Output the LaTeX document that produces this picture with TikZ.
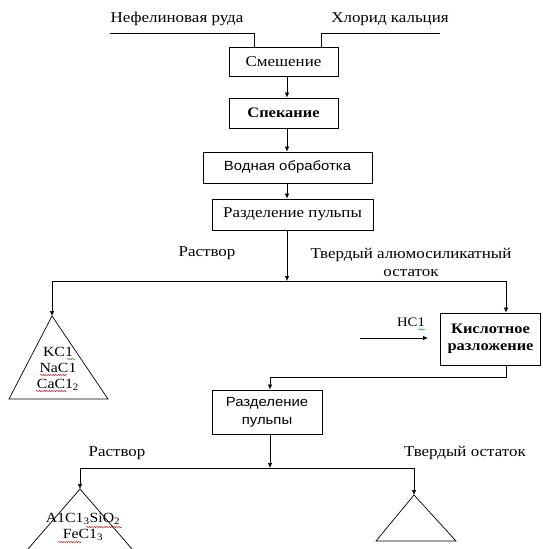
\documentclass[tikz,border=0pt]{standalone}
\usepackage{fontspec}
\setmainfont{Liberation Serif}[FakeStretch=1.13]
\newfontfamily\sansf{Liberation Sans}[FakeStretch=1.12]
\usetikzlibrary{arrows.meta,decorations.pathmorphing}
\begin{document}
\begin{tikzpicture}[x=1pt,y=-1pt,
  box/.style={draw, line width=0.8pt, inner sep=0pt, align=center},
  txt/.style={font=\fontsize{15}{18}\selectfont, inner sep=0pt, align=center},
  smtxt/.style={font=\fontsize{13}{18}\selectfont, inner sep=0pt, align=center},
  tritxt/.style={font=\fontsize{14}{16}\selectfont, inner sep=0pt, align=center},
  stxt/.style={font=\sansf\fontsize{13.3}{18}\selectfont},
  btxt/.style={font=\bfseries\fontsize{14.5}{17.5}\selectfont},
  ln/.style={line width=0.7pt},
  arr/.style={ln, -{Latex[length=5pt,width=4.5pt]}},
  redsq/.style={draw=red!80!black, line width=0.4pt, decorate, decoration={snake, amplitude=0.7pt, segment length=2.5pt}},
  grnsq/.style={draw=green!55!black, line width=0.4pt, decorate, decoration={snake, amplitude=0.7pt, segment length=2.5pt}}]
\useasboundingbox (0,0) rectangle (542,549);
% labels
\node[txt] (ore) at (177,19) {Нефелиновая руда};
\node[txt] (cacl) at (390,19) {Хлорид кальция};
% boxes
\node[box, txt, minimum width=109pt, minimum height=29pt] (smesh) at (283.5,61.5) {Смешение};
\node[box, btxt, minimum width=109pt, minimum height=30pt] (spek) at (283.5,113) {Спекание};
\node[box, stxt, minimum width=169pt, minimum height=31pt] (vod) at (287.5,167.5) {Водная обработка};
\node[box, txt, minimum width=161pt, minimum height=31pt] (razd1) at (292.5,214.5) {Разделение пульпы};
\node[box, btxt, minimum width=100pt, minimum height=52pt] (kisl) at (490.5,339) {Кислотное\\разложение};
\node[box, stxt, minimum width=110pt, minimum height=44pt] (razd2) at (267,412) {Разделение\\пульпы};
% coordinates
\coordinate (vx) at (287,0);
\coordinate (inL) at (110,33);
\coordinate (inR) at (440,33);
\coordinate (jL) at (254,33);
\coordinate (jR) at (321,33);
\coordinate (s1) at (287,281);
\coordinate (s1L) at (52,281);
\coordinate (s1R) at (506,281);
\coordinate (t1) at (52,316);
\coordinate (k1) at (506,377);
\coordinate (k2) at (270,377);
\coordinate (s2) at (270,468);
\coordinate (s2L) at (80,468);
\coordinate (s2R) at (414,468);
\coordinate (t2) at (80,489);
\coordinate (t3) at (414,495);
\coordinate (hclS) at (360,338);
\coordinate (hclE) at (428,338);
% input lines
\draw[ln] (inL) -- (jL) -- (jL |- smesh.north);
\draw[ln] (inR) -- (jR) -- (jR |- smesh.north);
% main flow
\draw[arr] (smesh.south -| vx) -- (spek.north -| vx);
\draw[arr] (spek.south -| vx) -- (vod.north -| vx);
\draw[arr] (vod.south -| vx) -- (razd1.north -| vx);
\draw[arr] (razd1.south -| vx) -- (s1);
\draw[ln] (s1L) -- (s1R);
\draw[arr] (s1L) -- (t1);
\draw[arr] (s1R) -- (kisl.north -| s1R);
\draw[arr] (hclS) -- (hclE);
\node[smtxt] (hcl) at (411,322) {НС1};
\draw[ln] (kisl.south -| k1) -- (k1) -- (k2);
\draw[arr] (k2) -- (razd2.north -| k2);
\draw[arr] (razd2.south -| s2) -- (s2);
\draw[ln] (s2L) -- (s2R);
\draw[arr] (s2L) -- (t2);
\draw[arr] (s2R) -- (t3);
% split labels
\node[txt] (r1) at (207,253) {Раствор};
\node[txt] (tv1) at (411,262) {Твердый алюмосиликатный\\остаток};
\node[txt] (r2) at (117,453) {Раствор};
\node[txt] (tv2) at (465,453) {Твердый остаток};
% triangles
\draw[ln] (t1) -- (9,399) -- (108,399) -- cycle;
\node[tritxt] (p1) at (58,369) {KC1\\NaC1\\CaC1\textsubscript{2}};
\draw[ln] (28,549) -- (t2) -- (132,549);
\node[tritxt] (p2) at (83,527) {A1C1\textsubscript{3}SiO\textsubscript{2}\\FeC1\textsubscript{3}};
\draw[ln] (t3) -- (376,541) -- (456,541) -- cycle;
% spell-check underlines
\draw[grnsq] (67,359) -- (75,359);
\draw[grnsq] (418,329.5) -- (425,329.5);
\draw[redsq] (40,375) -- (67,375);
\draw[redsq] (36,391) -- (67,391);
\draw[redsq] (86,527) -- (122,527);
\draw[redsq] (58,542) -- (82,542);
\end{tikzpicture}
\end{document}
